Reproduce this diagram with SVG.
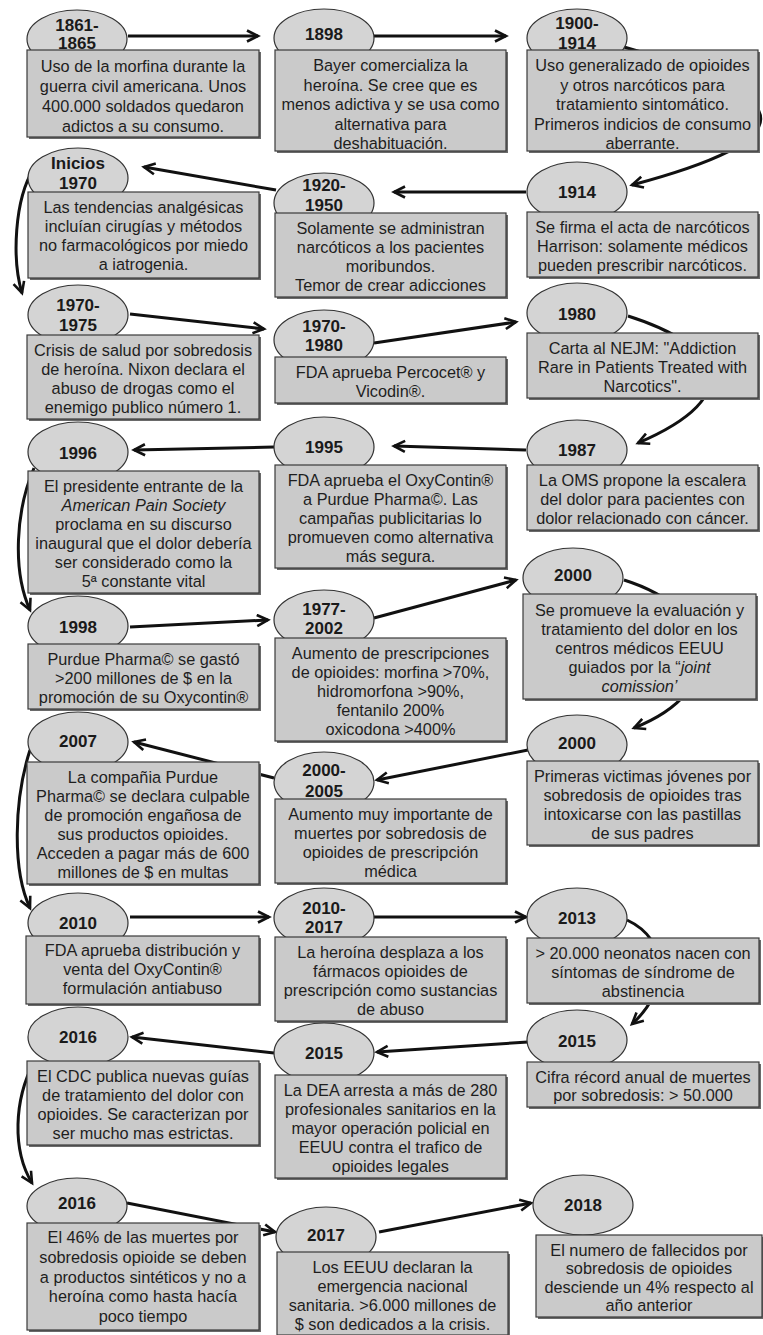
<svg xmlns="http://www.w3.org/2000/svg" width="763" height="1335" viewBox="0 0 763 1335">
<style>
.bg{fill:#ffffff}
.ell{fill:#d4d4d4;stroke:#333;stroke-width:1.2}
.box{fill:#cacaca;stroke:#3a3a3a;stroke-width:1.2}
.sh{fill:#6a6a6a}
.lbl{font-family:"Liberation Sans",Arial,sans-serif;font-weight:bold;font-size:17px;fill:#1a1a1a;text-anchor:middle;dominant-baseline:central}
.txt{font-family:"Liberation Sans",Arial,sans-serif;font-size:16.3px;fill:#1e1e1e;text-anchor:middle;dominant-baseline:central}
.it{font-style:italic}
.c{fill:none;stroke:#111;stroke-width:3;marker-end:url(#ah)}
</style>
<defs>
<marker id="ah" markerWidth="16" markerHeight="14" refX="12" refY="7" orient="auto" markerUnits="userSpaceOnUse">
<path d="M1,1.5 L12,7 L1,12.5" fill="none" stroke="#111" stroke-width="2.6"/>
</marker>
</defs>
<rect class="bg" x="0" y="0" width="763" height="1335"/>
<g id="connectors">
<path class="c" d="M128,36 L258,36"/>
<path class="c" d="M374,36 L506,36"/>
<path class="c" d="M624,47 C810,100 800,140 632,185"/>
<path class="c" d="M526,192 L394,192"/>
<path class="c" d="M276,190 L144,167"/>
<path class="c" d="M34,168 C14,200 12,260 22,293"/>
<path class="c" d="M130,314 L264,329"/>
<path class="c" d="M374,343 L516,322"/>
<path class="c" d="M628,316 C720,345 750,395 638,443"/>
<path class="c" d="M526,450 L394,446"/>
<path class="c" d="M274,447 L134,450"/>
<path class="c" d="M34,468 C16,510 12,570 30,610"/>
<path class="c" d="M130,627 L268,620"/>
<path class="c" d="M374,618 L516,580"/>
<path class="c" d="M624,580 C720,610 730,690 634,728"/>
<path class="c" d="M528,750 L377,780"/>
<path class="c" d="M274,778 L134,742"/>
<path class="c" d="M30,750 C14,800 12,870 30,908"/>
<path class="c" d="M130,917 L269,917"/>
<path class="c" d="M374,917 L526,917"/>
<path class="c" d="M627,920 C670,940 670,990 632,1024"/>
<path class="c" d="M528,1042 L377,1052"/>
<path class="c" d="M274,1053 L132,1037"/>
<path class="c" d="M34,1062 C14,1100 12,1150 32,1183"/>
<path class="c" d="M127,1203 L275,1232"/>
<path class="c" d="M379,1232 L531,1203"/>
</g>

<g id="n1861">
<ellipse class="ell" cx="77" cy="39" rx="50" ry="29"/>
<rect class="sh" x="29" y="52" width="232" height="87"/><rect class="box" x="27" y="50" width="232" height="87"/>
<text class="lbl"><tspan x="77" y="25">1861-</tspan><tspan x="77" y="43">1865</tspan></text>
<text class="txt"><tspan x="143" y="66">Uso de la morfina durante la</tspan><tspan x="143" y="86">guerra civil americana. Unos</tspan><tspan x="143" y="106">400.000 soldados quedaron</tspan><tspan x="143" y="126">adictos a su consumo.</tspan></text>
</g>
<g id="n1898">
<ellipse class="ell" cx="324" cy="38" rx="50" ry="29"/>
<rect class="sh" x="277" y="52" width="231" height="101"/><rect class="box" x="275" y="50" width="231" height="101"/>
<text class="lbl"><tspan x="324" y="34">1898</tspan></text>
<text class="txt"><tspan x="390.5" y="65">Bayer comercializa la</tspan><tspan x="390.5" y="84.5">heroína. Se cree que es</tspan><tspan x="390.5" y="104">menos adictiva y se usa como</tspan><tspan x="390.5" y="123.5">alternativa para</tspan><tspan x="390.5" y="143">deshabituación.</tspan></text>
</g>
<g id="n1900">
<ellipse class="ell" cx="577" cy="38" rx="50" ry="29"/>
<rect class="sh" x="529" y="52" width="231" height="101"/><rect class="box" x="527" y="50" width="231" height="101"/>
<text class="lbl"><tspan x="577" y="23">1900-</tspan><tspan x="577" y="43">1914</tspan></text>
<text class="txt"><tspan x="642.5" y="65">Uso generalizado de opioides</tspan><tspan x="642.5" y="84.5">y otros narcóticos para</tspan><tspan x="642.5" y="104">tratamiento sintomático.</tspan><tspan x="642.5" y="123.5">Primeros indicios de consumo</tspan><tspan x="642.5" y="143">aberrante.</tspan></text>
</g>
<g id="nInicios1970">
<ellipse class="ell" cx="78" cy="178" rx="50" ry="30"/>
<rect class="sh" x="30" y="194" width="231" height="86"/><rect class="box" x="28" y="192" width="231" height="86"/>
<text class="lbl"><tspan x="78" y="163">Inicios</tspan><tspan x="78" y="183">1970</tspan></text>
<text class="txt"><tspan x="143.5" y="207">Las tendencias analgésicas</tspan><tspan x="143.5" y="226">incluían cirugías y métodos</tspan><tspan x="143.5" y="245">no farmacológicos por miedo</tspan><tspan x="143.5" y="264">a iatrogenia.</tspan></text>
</g>
<g id="n1920">
<ellipse class="ell" cx="324" cy="203" rx="50" ry="30"/>
<rect class="sh" x="277" y="215" width="231" height="84"/><rect class="box" x="275" y="213" width="231" height="84"/>
<text class="lbl"><tspan x="324" y="185">1920-</tspan><tspan x="324" y="205">1950</tspan></text>
<text class="txt"><tspan x="390.5" y="228">Solamente se administran</tspan><tspan x="390.5" y="247">narcóticos a los pacientes</tspan><tspan x="390.5" y="266">moribundos.</tspan><tspan x="390.5" y="285">Temor de crear adicciones</tspan></text>
</g>
<g id="n1914">
<ellipse class="ell" cx="577" cy="192" rx="50" ry="30"/>
<rect class="sh" x="529" y="214" width="231" height="65"/><rect class="box" x="527" y="212" width="231" height="65"/>
<text class="lbl"><tspan x="577" y="192">1914</tspan></text>
<text class="txt"><tspan x="642.5" y="227">Se firma el acta de narcóticos</tspan><tspan x="642.5" y="246">Harrison: solamente médicos</tspan><tspan x="642.5" y="265">pueden prescribir narcóticos.</tspan></text>
</g>
<g id="n1970a">
<ellipse class="ell" cx="78" cy="315" rx="50" ry="30"/>
<rect class="sh" x="29" y="337" width="232" height="84"/><rect class="box" x="27" y="335" width="232" height="84"/>
<text class="lbl"><tspan x="78" y="305">1970-</tspan><tspan x="78" y="325">1975</tspan></text>
<text class="txt"><tspan x="143" y="350">Crisis de salud por sobredosis</tspan><tspan x="143" y="369">de heroína. Nixon declara el</tspan><tspan x="143" y="388">abuso de drogas como el</tspan><tspan x="143" y="407">enemigo publico número 1.</tspan></text>
</g>
<g id="n1970b">
<ellipse class="ell" cx="324" cy="340" rx="50" ry="30"/>
<rect class="sh" x="277" y="359" width="231" height="46"/><rect class="box" x="275" y="357" width="231" height="46"/>
<text class="lbl"><tspan x="324" y="326">1970-</tspan><tspan x="324" y="345">1980</tspan></text>
<text class="txt"><tspan x="390.5" y="372">FDA aprueba Percocet® y</tspan><tspan x="390.5" y="391">Vicodin®.</tspan></text>
</g>
<g id="n1980">
<ellipse class="ell" cx="577" cy="313" rx="50" ry="30"/>
<rect class="sh" x="529" y="335" width="231" height="65"/><rect class="box" x="527" y="333" width="231" height="65"/>
<text class="lbl"><tspan x="577" y="314">1980</tspan></text>
<text class="txt"><tspan x="642.5" y="348">Carta al NEJM: "Addiction</tspan><tspan x="642.5" y="367">Rare in Patients Treated with</tspan><tspan x="642.5" y="386">Narcotics".</tspan></text>
</g>
<g id="n1996">
<ellipse class="ell" cx="78" cy="452" rx="50" ry="30"/>
<rect class="sh" x="30" y="473" width="231" height="122"/><rect class="box" x="28" y="471" width="231" height="122"/>
<text class="lbl"><tspan x="78" y="453">1996</tspan></text>
<text class="txt"><tspan x="143.5" y="486">El presidente entrante de la</tspan><tspan x="143.5" y="505" class="it">American Pain Society</tspan><tspan x="143.5" y="524">proclama en su discurso</tspan><tspan x="143.5" y="543">inaugural que el dolor debería</tspan><tspan x="143.5" y="562">ser considerado como la</tspan><tspan x="143.5" y="581">5ª constante vital</tspan></text>
</g>
<g id="n1995">
<ellipse class="ell" cx="324" cy="447" rx="50" ry="30"/>
<rect class="sh" x="277" y="467" width="231" height="103"/><rect class="box" x="275" y="465" width="231" height="103"/>
<text class="lbl"><tspan x="324" y="447">1995</tspan></text>
<text class="txt"><tspan x="390.5" y="480">FDA aprueba el OxyContin®</tspan><tspan x="390.5" y="499">a Purdue Pharma©. Las</tspan><tspan x="390.5" y="518">campañas publicitarias lo</tspan><tspan x="390.5" y="537">promueven como alternativa</tspan><tspan x="390.5" y="556">más segura.</tspan></text>
</g>
<g id="n1987">
<ellipse class="ell" cx="577" cy="450" rx="50" ry="30"/>
<rect class="sh" x="529" y="467" width="231" height="65"/><rect class="box" x="527" y="465" width="231" height="65"/>
<text class="lbl"><tspan x="577" y="450">1987</tspan></text>
<text class="txt"><tspan x="642.5" y="480">La OMS propone la escalera</tspan><tspan x="642.5" y="499">del dolor para pacientes con</tspan><tspan x="642.5" y="518">dolor relacionado con cáncer.</tspan></text>
</g>
<g id="n1998">
<ellipse class="ell" cx="78" cy="626" rx="50" ry="30"/>
<rect class="sh" x="30" y="646" width="231" height="65"/><rect class="box" x="28" y="644" width="231" height="65"/>
<text class="lbl"><tspan x="78" y="627">1998</tspan></text>
<text class="txt"><tspan x="143.5" y="659">Purdue Pharma© se gastó</tspan><tspan x="143.5" y="678">&gt;200 millones de $ en la</tspan><tspan x="143.5" y="697">promoción de su Oxycontin®</tspan></text>
</g>
<g id="n1977">
<ellipse class="ell" cx="324" cy="620" rx="50" ry="30"/>
<rect class="sh" x="277" y="640" width="231" height="103"/><rect class="box" x="275" y="638" width="231" height="103"/>
<text class="lbl"><tspan x="324" y="609">1977-</tspan><tspan x="324" y="628">2002</tspan></text>
<text class="txt"><tspan x="390.5" y="653">Aumento de prescripciones</tspan><tspan x="390.5" y="672">de opioides: morfina &gt;70%,</tspan><tspan x="390.5" y="691">hidromorfona &gt;90%,</tspan><tspan x="390.5" y="710">fentanilo 200%</tspan><tspan x="390.5" y="729">oxicodona &gt;400%</tspan></text>
</g>
<g id="n2000a">
<ellipse class="ell" cx="573" cy="578" rx="50" ry="30"/>
<rect class="sh" x="525" y="596" width="233" height="105"/><rect class="box" x="523" y="594" width="233" height="105"/>
<text class="lbl"><tspan x="573" y="575">2000</tspan></text>
<text class="txt"><tspan x="639.5" y="610">Se promueve la evaluación y</tspan><tspan x="639.5" y="629">tratamiento del dolor en los</tspan><tspan x="639.5" y="648">centros médicos EEUU</tspan><tspan x="639.5" y="667">guiados por la “<tspan class="it">joint</tspan></tspan><tspan x="639.5" y="686" class="it">comission’</tspan></text>
</g>
<g id="n2007">
<ellipse class="ell" cx="78" cy="742" rx="50" ry="30"/>
<rect class="sh" x="29" y="764" width="232" height="122"/><rect class="box" x="27" y="762" width="232" height="122"/>
<text class="lbl"><tspan x="78" y="741">2007</tspan></text>
<text class="txt"><tspan x="143" y="777">La compañia Purdue</tspan><tspan x="143" y="796">Pharma© se declara culpable</tspan><tspan x="143" y="815">de promoción engañosa de</tspan><tspan x="143" y="834">sus productos opioides.</tspan><tspan x="143" y="853">Acceden a pagar más de 600</tspan><tspan x="143" y="872">millones de $ en multas</tspan></text>
</g>
<g id="n2000_2005">
<ellipse class="ell" cx="324" cy="782" rx="50" ry="30"/>
<rect class="sh" x="277" y="801" width="231" height="84"/><rect class="box" x="275" y="799" width="231" height="84"/>
<text class="lbl"><tspan x="324" y="770">2000-</tspan><tspan x="324" y="791">2005</tspan></text>
<text class="txt"><tspan x="390.5" y="814">Aumento muy importante de</tspan><tspan x="390.5" y="833">muertes por sobredosis de</tspan><tspan x="390.5" y="852">opioides de prescripción</tspan><tspan x="390.5" y="871">médica</tspan></text>
</g>
<g id="n2000b">
<ellipse class="ell" cx="577" cy="745" rx="50" ry="30"/>
<rect class="sh" x="529" y="763" width="231" height="84"/><rect class="box" x="527" y="761" width="231" height="84"/>
<text class="lbl"><tspan x="577" y="743">2000</tspan></text>
<text class="txt"><tspan x="642.5" y="776">Primeras victimas jóvenes por</tspan><tspan x="642.5" y="795">sobredosis de opioides tras</tspan><tspan x="642.5" y="814">intoxicarse con las pastillas</tspan><tspan x="642.5" y="833">de sus padres</tspan></text>
</g>
<g id="n2010">
<ellipse class="ell" cx="78" cy="923" rx="50" ry="30"/>
<rect class="sh" x="28" y="938" width="233" height="68"/><rect class="box" x="26" y="936" width="233" height="68"/>
<text class="lbl"><tspan x="78" y="923">2010</tspan></text>
<text class="txt"><tspan x="142.5" y="950">FDA aprueba distribución y</tspan><tspan x="142.5" y="969">venta del OxyContin®</tspan><tspan x="142.5" y="988">formulación antiabuso</tspan></text>
</g>
<g id="n2010_2017">
<ellipse class="ell" cx="324" cy="918" rx="50" ry="30"/>
<rect class="sh" x="277" y="939" width="231" height="84"/><rect class="box" x="275" y="937" width="231" height="84"/>
<text class="lbl"><tspan x="324" y="908">2010-</tspan><tspan x="324" y="927">2017</tspan></text>
<text class="txt"><tspan x="390.5" y="952">La heroína desplaza a los</tspan><tspan x="390.5" y="971">fármacos opioides de</tspan><tspan x="390.5" y="990">prescripción como sustancias</tspan><tspan x="390.5" y="1009">de abuso</tspan></text>
</g>
<g id="n2013">
<ellipse class="ell" cx="577" cy="918" rx="50" ry="30"/>
<rect class="sh" x="529" y="940" width="232" height="65"/><rect class="box" x="527" y="938" width="232" height="65"/>
<text class="lbl"><tspan x="577" y="918">2013</tspan></text>
<text class="txt"><tspan x="643" y="953">&gt; 20.000 neonatos nacen con</tspan><tspan x="643" y="972">síntomas de síndrome de</tspan><tspan x="643" y="991">abstinencia</tspan></text>
</g>
<g id="n2016a">
<ellipse class="ell" cx="78" cy="1037" rx="50" ry="30"/>
<rect class="sh" x="29" y="1063" width="232" height="84"/><rect class="box" x="27" y="1061" width="232" height="84"/>
<text class="lbl"><tspan x="78" y="1037">2016</tspan></text>
<text class="txt"><tspan x="143" y="1076">El CDC publica nuevas guías</tspan><tspan x="143" y="1095">de tratamiento del dolor con</tspan><tspan x="143" y="1114">opioides. Se caracterizan por</tspan><tspan x="143" y="1133">ser mucho mas estrictas.</tspan></text>
</g>
<g id="n2015a">
<ellipse class="ell" cx="324" cy="1053" rx="50" ry="30"/>
<rect class="sh" x="277" y="1077" width="231" height="103"/><rect class="box" x="275" y="1075" width="231" height="103"/>
<text class="lbl"><tspan x="324" y="1053">2015</tspan></text>
<text class="txt"><tspan x="390.5" y="1090">La DEA arresta a más de 280</tspan><tspan x="390.5" y="1109">profesionales sanitarios en la</tspan><tspan x="390.5" y="1128">mayor operación policial en</tspan><tspan x="390.5" y="1147">EEUU contra el trafico de</tspan><tspan x="390.5" y="1166">opioides legales</tspan></text>
</g>
<g id="n2015b">
<ellipse class="ell" cx="577" cy="1040" rx="50" ry="30"/>
<rect class="sh" x="529" y="1064" width="232" height="45"/><rect class="box" x="527" y="1062" width="232" height="45"/>
<text class="lbl"><tspan x="577" y="1041">2015</tspan></text>
<text class="txt"><tspan x="643" y="1077">Cifra récord anual de muertes</tspan><tspan x="643" y="1095">por sobredosis: &gt; 50.000</tspan></text>
</g>
<g id="n2016b">
<ellipse class="ell" cx="77" cy="1206" rx="50" ry="28"/>
<rect class="sh" x="29" y="1225" width="232" height="107"/><rect class="box" x="27" y="1223" width="232" height="107"/>
<text class="lbl"><tspan x="77" y="1203">2016</tspan></text>
<text class="txt"><tspan x="143" y="1237">El 46% de las muertes por</tspan><tspan x="143" y="1257">sobredosis opioide se deben</tspan><tspan x="143" y="1276.5">a productos sintéticos y no a</tspan><tspan x="143" y="1296">heroína como hasta hacía</tspan><tspan x="143" y="1316">poco tiempo</tspan></text>
</g>
<g id="n2017">
<ellipse class="ell" cx="326" cy="1237" rx="50" ry="30"/>
<rect class="sh" x="279" y="1254" width="231" height="83"/><rect class="box" x="277" y="1252" width="231" height="83"/>
<text class="lbl"><tspan x="326" y="1235">2017</tspan></text>
<text class="txt"><tspan x="392.5" y="1267">Los EEUU declaran la</tspan><tspan x="392.5" y="1286">emergencia nacional</tspan><tspan x="392.5" y="1305">sanitaria. &gt;6.000 millones de</tspan><tspan x="392.5" y="1324">$ son dedicados a la crisis.</tspan></text>
</g>
<g id="n2018">
<ellipse class="ell" cx="583" cy="1205" rx="50" ry="30"/>
<rect class="sh" x="538" y="1237" width="226" height="82"/><rect class="box" x="536" y="1235" width="226" height="82"/>
<text class="lbl"><tspan x="583" y="1205">2018</tspan></text>
<text class="txt"><tspan x="649" y="1250">El numero de fallecidos por</tspan><tspan x="649" y="1268">sobredosis de opioides</tspan><tspan x="649" y="1287">desciende un 4% respecto al</tspan><tspan x="649" y="1305">año anterior</tspan></text>
</g>
</svg>
